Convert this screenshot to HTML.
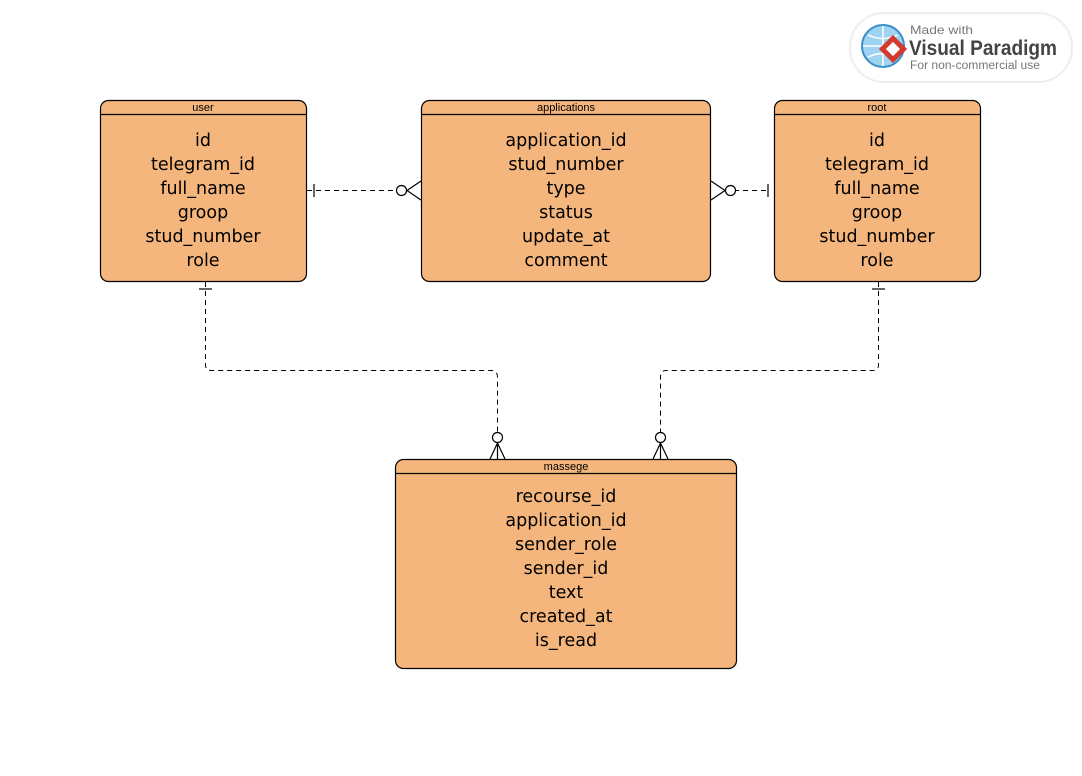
<!DOCTYPE html>
<html><head><meta charset="utf-8"><style>
body{margin:0;background:#fff;width:1082px;height:771px;overflow:hidden}
svg text{font-family:"Liberation Sans",sans-serif}
svg .b text{font-family:"DejaVu Sans",sans-serif}
</style></head><body>
<svg width="1082" height="771" xmlns="http://www.w3.org/2000/svg">
<g fill="#f4b67c" stroke="#000" stroke-width="1.2">
<rect x="100.5" y="100.5" width="206" height="181" rx="8"/>
<rect x="421.5" y="100.5" width="289" height="181" rx="8"/>
<rect x="774.5" y="100.5" width="206" height="181" rx="8"/>
<rect x="395.5" y="459.5" width="341" height="209" rx="8"/>
<line x1="100.5" y1="114.5" x2="306.5" y2="114.5"/>
<line x1="421.5" y1="114.5" x2="710.5" y2="114.5"/>
<line x1="774.5" y1="114.5" x2="980.5" y2="114.5"/>
<line x1="395.5" y1="473.5" x2="736.5" y2="473.5"/>
</g>
<g font-size="11" text-anchor="middle" fill="#000">
<text x="203" y="111">user</text>
<text x="566" y="111">applications</text>
<text x="877" y="111">root</text>
<text x="566" y="470">massege</text>
</g>
<g class="b" font-size="17.5" text-anchor="middle" fill="#000">
<text x="203" y="146">id</text><text x="203" y="170">telegram_id</text><text x="203" y="194">full_name</text><text x="203" y="218">groop</text><text x="203" y="242">stud_number</text><text x="203" y="266">role</text>
<text x="566" y="146">application_id</text><text x="566" y="170">stud_number</text><text x="566" y="194">type</text><text x="566" y="218">status</text><text x="566" y="242">update_at</text><text x="566" y="266">comment</text>
<text x="877" y="146">id</text><text x="877" y="170">telegram_id</text><text x="877" y="194">full_name</text><text x="877" y="218">groop</text><text x="877" y="242">stud_number</text><text x="877" y="266">role</text>
<text x="566" y="502">recourse_id</text><text x="566" y="526">application_id</text><text x="566" y="550">sender_role</text><text x="566" y="574">sender_id</text><text x="566" y="598">text</text><text x="566" y="622">created_at</text><text x="566" y="646">is_read</text>
</g>
<g fill="none" stroke="#000" stroke-width="1" stroke-dasharray="5,4">
<path d="M307 190.5H396"/>
<path d="M725 190.5H769"/>
<path d="M205.5 282V365Q205.5 370.5 211 370.5H491Q497.5 370.5 497.5 377V432"/>
<path d="M878.5 282V365Q878.5 370.5 872 370.5H666Q660.5 370.5 660.5 377V432"/>
</g>
<g fill="#fff" stroke="#000" stroke-width="1.2">
<circle cx="401.5" cy="190.5" r="5"/>
<circle cx="730.5" cy="190.5" r="5"/>
<circle cx="497.5" cy="437.5" r="5"/>
<circle cx="660.5" cy="437.5" r="5"/>
</g>
<g stroke="#000" stroke-width="1.2" fill="none">
<path d="M421 181L407 190.5L421 200"/>
<path d="M711 181L725 190.5L711 200"/>
<path d="M490 459L497.5 443L505 459M497.5 443V459"/>
<path d="M653 459L660.5 443L668 459M660.5 443V459"/>
</g>
<g stroke="#666" stroke-width="2">
<line x1="314" y1="184" x2="314" y2="197"/>
<line x1="768" y1="184" x2="768" y2="197"/>
<line x1="199" y1="289" x2="212" y2="289"/>
<line x1="872" y1="289" x2="885" y2="289"/>
</g>
<rect x="850" y="13" width="222" height="69" rx="34" fill="#fff" stroke="#eee" stroke-width="2"/>
<circle cx="883" cy="46" r="21" fill="#9fd3f2" stroke="#3a8fc9" stroke-width="2"/>
<path d="M863 46H903M883 26V66M868 35Q883 42 898 35M868 57Q883 50 898 57" stroke="#fff" stroke-width="1.5" fill="none"/>
<rect x="883" y="39" width="20" height="20" fill="#d23a2f" transform="rotate(45 893 49)"/>
<rect x="888" y="44" width="10" height="10" fill="#fff" transform="rotate(45 893 49)"/>
<text x="910" y="34" font-size="12" fill="#777" textLength="63" lengthAdjust="spacingAndGlyphs">Made with</text>
<text x="909" y="55" font-size="21" font-weight="bold" fill="#444" textLength="148" lengthAdjust="spacingAndGlyphs">Visual Paradigm</text>
<text x="910" y="69" font-size="11.5" fill="#777" textLength="130" lengthAdjust="spacingAndGlyphs">For non-commercial use</text>
</svg>
</body></html>
